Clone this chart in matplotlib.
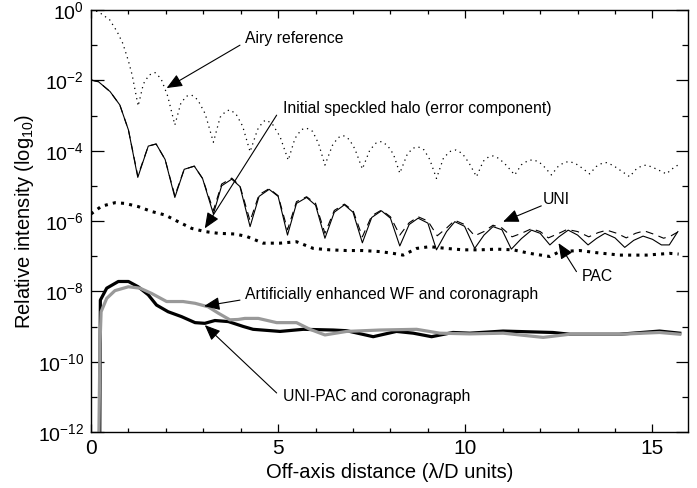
import matplotlib
matplotlib.use("Agg")
import matplotlib.pyplot as plt
import numpy as np

plt.rcParams['font.family'] = ['Liberation Sans', 'DejaVu Sans']
plt.rcParams['mathtext.fontset'] = 'custom'
plt.rcParams['mathtext.rm'] = 'Liberation Sans'
plt.rcParams['mathtext.it'] = 'Liberation Sans:italic'

# ---- data (x in lambda/D, values are log10 of relative intensity) ----
airy_x = [0.0, 0.2, 0.5, 0.7, 0.85, 1.0, 1.1, 1.26, 1.4, 1.55, 1.71, 1.87, 2.05, 2.24,
          2.4, 2.55, 2.69, 2.85, 3.05, 3.27, 3.45, 3.6, 3.71, 3.87, 4.05, 4.25,
          4.45, 4.6, 4.69, 4.85, 5.05, 5.27, 5.45, 5.62, 5.76, 5.92, 6.08, 6.25,
          6.45, 6.6, 6.74, 6.9, 7.05, 7.25, 7.45, 7.62, 7.76, 7.92, 8.08, 8.25,
          8.45, 8.6, 8.74, 8.9, 9.05, 9.23, 9.42, 9.6, 9.75, 9.92, 10.1, 10.3,
          10.48, 10.62, 10.74, 10.9, 11.1, 11.32, 11.5, 11.68, 11.81, 11.97, 12.13, 12.3,
          12.48, 12.65, 12.79, 12.95, 13.13, 13.32, 13.5, 13.65, 13.77, 13.95, 14.17, 14.39,
          14.57, 14.72, 14.84, 15.0, 15.18, 15.37, 15.55, 15.68]
airy_v = [0.0, -0.05, -0.28, -0.62, -0.95, -1.45, -1.85, -2.73, -2.1, -1.85, -1.78, -1.95, -2.45, -3.27,
          -2.65, -2.45, -2.42, -2.55, -2.95, -3.76, -3.05, -2.88, -2.84, -2.95, -3.3, -4.03,
          -3.4, -3.17, -3.13, -3.25, -3.6, -4.27, -3.65, -3.4, -3.36, -3.45, -3.8, -4.41,
          -3.85, -3.63, -3.57, -3.68, -3.95, -4.52, -3.98, -3.78, -3.74, -3.85, -4.1, -4.64,
          -4.1, -3.93, -3.89, -3.98, -4.25, -4.79, -4.2, -4.02, -3.98, -4.08, -4.35, -4.74,
          -4.3, -4.18, -4.15, -4.22, -4.42, -4.69, -4.4, -4.28, -4.26, -4.32, -4.48, -4.69,
          -4.45, -4.33, -4.31, -4.37, -4.5, -4.66, -4.45, -4.36, -4.34, -4.42, -4.58, -4.74,
          -4.52, -4.43, -4.41, -4.47, -4.56, -4.66, -4.5, -4.41]

halo_x = [0.0, 0.2, 0.51, 0.77, 1.0, 1.25, 1.53, 1.74, 1.98, 2.24, 2.49, 2.76, 2.98, 3.27,
          3.49, 3.76, 3.98, 4.25, 4.49, 4.76, 5.0, 5.25, 5.49, 5.76, 6.0, 6.25, 6.5, 6.77,
          7.0, 7.25, 7.5, 7.76, 8.0, 8.25, 8.5, 8.74, 9.0, 9.23, 9.5, 9.72, 9.98, 10.25,
          10.5, 10.74, 10.98, 11.23, 11.5, 11.77, 12.0, 12.26, 12.5, 12.75, 13.0, 13.28,
          13.5, 13.73, 14.0, 14.26, 14.5, 14.75, 15.0, 15.24, 15.45, 15.68]
halo_v = [-1.99, -2.04, -2.32, -2.70, -3.41, -4.76, -3.87, -3.81, -4.25, -5.33, -4.53, -4.44, -4.79, -5.80,
          -5.0, -4.81, -5.02, -6.16, -5.3, -5.10, -5.3, -6.40, -5.5, -5.33, -5.55, -6.49, -5.75, -5.54,
          -5.75, -6.62, -5.9, -5.71, -5.92, -6.71, -6.1, -5.92, -6.06, -6.82, -6.3, -6.02, -6.15, -6.78,
          -6.4, -6.16, -6.25, -6.80, -6.5, -6.26, -6.35, -6.68, -6.45, -6.26, -6.4, -6.68,
          -6.5, -6.35, -6.48, -6.75, -6.55, -6.43, -6.52, -6.68, -6.68, -6.30]

uni_x = [0.0, 0.2, 0.51, 0.77, 1.0, 1.25, 1.53, 1.74, 1.98, 2.24, 2.49, 2.76, 2.98, 3.27,
         3.49, 3.76, 3.98, 4.25, 4.49, 4.76, 5.0, 5.25, 5.49, 5.76, 6.0, 6.25, 6.5, 6.77,
         7.0, 7.25, 7.5, 7.76, 8.0, 8.25, 8.5, 8.74, 9.0, 9.25, 9.5, 9.72, 9.98, 10.25,
         10.5, 10.74, 10.98, 11.25, 11.5, 11.77, 12.0, 12.22, 12.5, 12.72, 13.0, 13.3,
         13.55, 13.78, 14.05, 14.3, 14.55, 14.78, 15.05, 15.3, 15.5, 15.7]
uni_v = [-1.99, -2.04, -2.32, -2.70, -3.41, -4.72, -3.87, -3.81, -4.25, -5.28, -4.53, -4.44, -4.79, -5.70,
         -4.95, -4.78, -5.0, -6.0, -5.25, -5.08, -5.28, -6.25, -5.45, -5.31, -5.5, -6.35, -5.7, -5.52,
         -5.7, -6.45, -5.85, -5.69, -5.88, -6.40, -6.05, -5.88, -6.0, -6.42, -6.2, -5.98, -6.1, -6.42,
         -6.3, -6.12, -6.2, -6.45, -6.35, -6.22, -6.3, -6.48, -6.35, -6.24, -6.3, -6.45,
         -6.33, -6.26, -6.35, -6.48, -6.35, -6.28, -6.38, -6.49, -6.42, -6.30]

pac_x = [0.0, 0.28, 0.64, 0.91, 1.26, 1.62, 1.98, 2.33, 2.69, 3.04, 3.4, 3.85, 4.16, 4.6,
         5.05, 5.49, 5.94, 6.38, 6.83, 7.27, 7.72, 8.07, 8.34, 8.7, 9.05, 9.5, 9.94, 10.39,
         10.83, 11.28, 11.72, 12.26, 12.52, 13.06, 13.5, 14.13, 14.84, 15.46, 15.7]
pac_v = [-5.8, -5.58, -5.48, -5.50, -5.59, -5.73, -5.83, -6.02, -6.21, -6.30, -6.35, -6.37, -6.44, -6.63,
         -6.63, -6.59, -6.78, -6.82, -6.84, -6.84, -6.87, -6.92, -6.97, -6.78, -6.73, -6.78, -6.82, -6.82,
         -6.80, -6.82, -6.92, -7.01, -6.87, -6.84, -6.90, -6.97, -6.97, -6.92, -6.94]

enh_x = [0.2, 0.24, 0.27, 0.42, 0.64, 1.0, 1.31, 1.62, 2.02, 2.46, 2.78, 3.13, 3.4, 3.71, 3.93,
         4.11, 4.47, 4.96, 5.49, 5.85, 6.25, 6.83, 7.72, 8.7, 9.32, 10.12, 11.01, 12.08, 12.79,
         14.12, 15.19, 15.73]
enh_v = [-13.0, -9.5, -8.58, -8.2, -7.98, -7.87, -7.91, -8.06, -8.29, -8.29, -8.34, -8.44, -8.62, -8.81, -8.80,
         -8.77, -8.77, -8.89, -8.89, -9.08, -9.24, -9.14, -9.10, -9.08, -9.19, -9.21, -9.19, -9.31, -9.22,
         -9.22, -9.17, -9.22]

upc_x = [0.23, 0.25, 0.42, 0.73, 1.0, 1.26, 1.53, 1.75, 2.06, 2.42, 2.78, 3.04, 3.31, 3.67, 4.07,
         4.33, 5.05, 5.67, 6.47, 6.83, 7.54, 8.16, 8.61, 9.1, 9.67, 10.12, 11.01, 12.34, 12.79,
         14.12, 15.19, 15.73]
upc_v = [-13.0, -8.25, -7.91, -7.72, -7.72, -7.87, -8.10, -8.39, -8.58, -8.72, -8.89, -8.91, -8.83, -8.86, -9.0,
         -9.08, -9.14, -9.08, -9.10, -9.12, -9.29, -9.14, -9.19, -9.29, -9.17, -9.19, -9.13, -9.17, -9.22,
         -9.22, -9.13, -9.19]

x_major = [0, 5, 10, 15]
y_decades = list(range(-12, 1))

# ---- figure ----
fig = plt.figure(figsize=(6.97, 4.88), dpi=100)
ax = fig.add_axes([91/697, 1-432/488, (688-91)/697, (432-10)/488])

def p(v):
    return 10.0 ** np.asarray(v)

ax.semilogy(airy_x, p(airy_v), color='black', lw=0.9, ls=(0, (1, 3.2)))
ax.semilogy(uni_x, p(uni_v), color='black', lw=0.8, ls=(0, (7, 5)))
ax.semilogy(halo_x, p(halo_v), color='black', lw=0.8)
ax.semilogy(pac_x, p(pac_v), color='black', lw=2.2, ls=(0, (1, 1.7)))
ax.semilogy(upc_x, p(upc_v), color='black', lw=2.3)
ax.semilogy(enh_x, p(enh_v), color='#999999', lw=2.3)

ax.set_xlim(0, 15.95)
ax.set_ylim(1e-12, 1.0)

ax.set_xticks(x_major)
ax.set_xticklabels([str(v) for v in x_major])
ax.set_xticks(np.arange(1, 16), minor=True)
ax.set_yticks([10.0 ** d for d in y_decades if d % 2 == 0])
ax.set_yticklabels([r'$10^{%d}$' % d for d in y_decades if d % 2 == 0])
ax.set_yticks([10.0 ** d for d in y_decades if d % 2 != 0], minor=True)
ax.yaxis.set_minor_formatter(matplotlib.ticker.NullFormatter())

ax.tick_params(which='both', direction='in', top=True, right=True, width=0.9, labelsize=14, pad=5)
ax.tick_params(axis='x', which='major', length=6)
ax.tick_params(axis='x', which='minor', length=3)
ax.tick_params(axis='y', which='major', length=9)
ax.tick_params(axis='y', which='minor', length=4.5)
ax.tick_params(axis='x', labelsize=15)
for s in ax.spines.values():
    s.set_linewidth(1.0)

ax.set_xlabel('Off-axis distance (\u03bb/D units)', fontsize=14.5, labelpad=4)
ax.set_ylabel('Relative intensity (log$_{10}$)', fontsize=14.5, labelpad=1)

arrow_kw = dict(arrowstyle='-|>,head_length=0.95,head_width=0.4', color='black', lw=0.8,
                shrinkA=0, shrinkB=0)

def annot(tail, tip, text_xy, label):
    ax.annotate('', xy=(tip[0], 10 ** tip[1]), xytext=(tail[0], 10 ** tail[1]),
                arrowprops=arrow_kw)
    ax.text(text_xy[0], 10 ** text_xy[1], label, fontsize=11.3, ha='left', va='center')

annot((3.98, -1.0), (2.02, -2.22), (4.11, -0.82), 'Airy reference')
annot((4.96, -2.99), (3.04, -6.21), (5.12, -2.81), 'Initial speckled halo (error component)')
annot((12.03, -5.57), (11.01, -6.02), (12.07, -5.40), 'UNI')
annot((12.97, -7.44), (12.49, -6.63), (13.10, -7.58), 'PAC')
annot((3.98, -8.25), (3.02, -8.42), (4.11, -8.10), 'Artificially enhanced WF and coronagraph')
annot((4.96, -10.89), (3.04, -8.96), (5.12, -11.0), 'UNI-PAC and coronagraph')

fig.savefig('out.png', dpi=100)
